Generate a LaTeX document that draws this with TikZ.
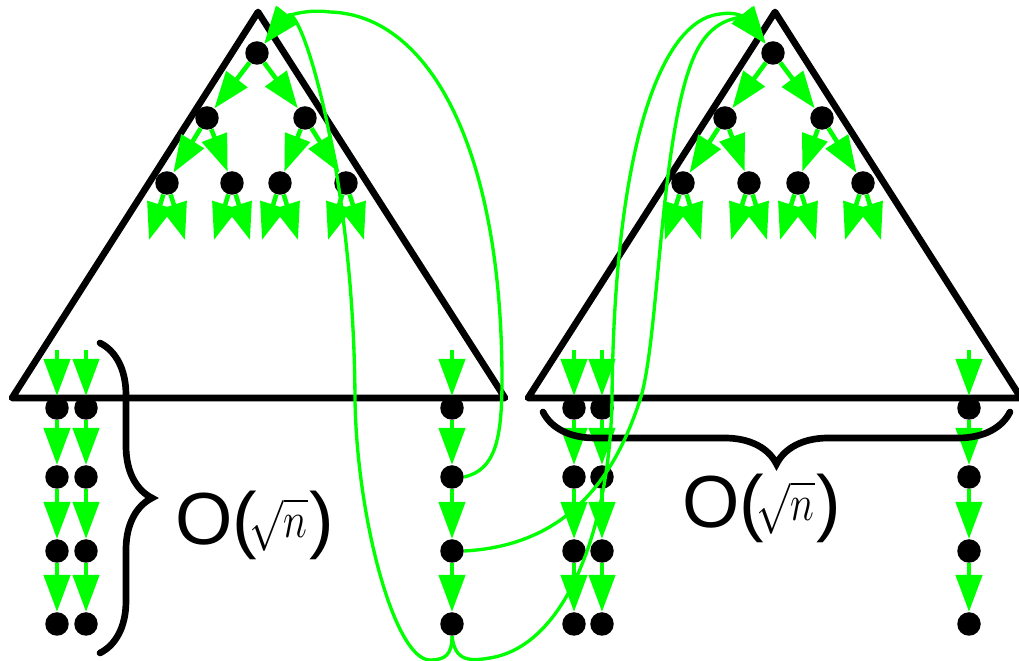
\RequirePackage{fix-cm}
\documentclass[tikz,border=0pt]{standalone}
\usepackage{fontspec}
\setmainfont{Liberation Sans}
\usetikzlibrary{arrows.meta,decorations.pathreplacing}

\definecolor{grn}{RGB}{0,255,0}
\tikzstyle{dot} = [circle, fill=black, minimum size=0.47cm, inner sep=0pt]
\tikzstyle{tri} = [line width=3.8pt, line join=round, line cap=round]
\tikzstyle{flow} = [grn, line width=2.6pt, -{Triangle[length=0.74cm,width=0.52cm]}]
\tikzstyle{jump} = [grn, line width=1.9pt, -{Triangle[length=0.74cm,width=0.52cm]}]
\tikzstyle{brc} = [line width=3.8pt, line cap=round, decorate, decoration={brace, amplitude=1.04cm}]
\tikzstyle{bound} = [font=\fontsize{42}{46}\selectfont, inner sep=0pt, anchor=base west]
\newcommand{\sqn}{O(\kern-0.1em\raisebox{4pt}{\scalebox{0.8}[1]{\fontsize{29}{31}\selectfont$\sqrt{n}$}}\kern0.02em)}

\begin{document}
\begin{tikzpicture}[x=0.02cm, y=-0.02cm]
\useasboundingbox (0,0) rectangle (1019,661);

% TREES
\draw[tri] (12,398) -- (258,12) -- (505,398) -- cycle;
\draw[tri] (528,398) -- (775,12) -- (1021,398) -- cycle;

% left tree
\node (lr) [dot] at (257,53) {};
\node (la) [dot] at (207,118) {};
\node (lb) [dot] at (305,118) {};
\node (lc1) [dot] at (167,183) {};
\node (lc2) [dot] at (232,183) {};
\node (lc3) [dot] at (280,183) {};
\node (lc4) [dot] at (346,183) {};

% right tree
\node (rr) [dot] at (773,53) {};
\node (ra) [dot] at (725,118) {};
\node (rb) [dot] at (822,118) {};
\node (rc1) [dot] at (683,183) {};
\node (rc2) [dot] at (749,183) {};
\node (rc3) [dot] at (798,183) {};
\node (rc4) [dot] at (863,183) {};

% COLUMNS
\foreach \c/\x in {p/57, q/86, s/452, t/574, u/602, v/969} {
  \coordinate (\c0) at (\x,350);
  \foreach \i/\y in {1/408, 2/477, 3/551, 4/624}
    \node (\c\i) [dot] at (\x,\y) {};
}

% PFEILE - trees
\draw[flow] (lr) -- (la);
\draw[flow] (lr) -- (lb);
\draw[flow] (la) -- (lc1);
\draw[flow] (la) -- (lc2);
\draw[flow] (lb) -- (lc3);
\draw[flow] (lb) -- (lc4);
\draw[flow] (rr) -- (ra);
\draw[flow] (rr) -- (rb);
\draw[flow] (ra) -- (rc1);
\draw[flow] (ra) -- (rc2);
\draw[flow] (rb) -- (rc3);
\draw[flow] (rb) -- (rc4);
\foreach \n in {lc1,lc2,lc3,lc4,rc1,rc2,rc3,rc4} {
  \draw[flow] (\n) -- ++(-18,57);
  \draw[flow] (\n) -- ++(18,57);
}

% PFEILE - columns
\foreach \c in {p,q,s,t,u,v}
  \foreach \i/\j in {0/1,1/2,2/3,3/4}
    \draw[flow] (\c\i) -- (\c\j);

% braces
\draw[brc] (100,343) -- (100,653);
\draw[brc] (1010,412) -- (543,412);

% jumps back to the roots
\draw[jump] (s2.east) .. controls (495,470) and (502,440) .. (502,380)
  .. controls (502,150) and (430,15) .. (330,12)
  .. controls (300,8) and (282,20) .. (lr);
\draw[jump] (s4.south) .. controls (452,655) and (445,660) .. (430,660)
  .. controls (395,660) and (357,520) .. (355,400)
  .. controls (354,170) and (300,0) .. (lr);
\draw[jump] (s3.east) .. controls (580,545) and (620,460) .. (640,400)
  .. controls (660,340) and (660,110) .. (700,45)
  .. controls (720,12) and (748,20) .. (rr);
\draw[jump] (s4.south) .. controls (455,662) and (470,662) .. (495,657)
  .. controls (570,640) and (610,520) .. (612,400)
  .. controls (614,150) and (660,20) .. (720,14)
  .. controls (745,10) and (750,25) .. (rr);

% Beschriftung
\node (lbl1) [bound] at (175,545) {\sqn};
\node (lbl2) [bound] at (682,528) {\sqn};

\end{tikzpicture}
\end{document}
